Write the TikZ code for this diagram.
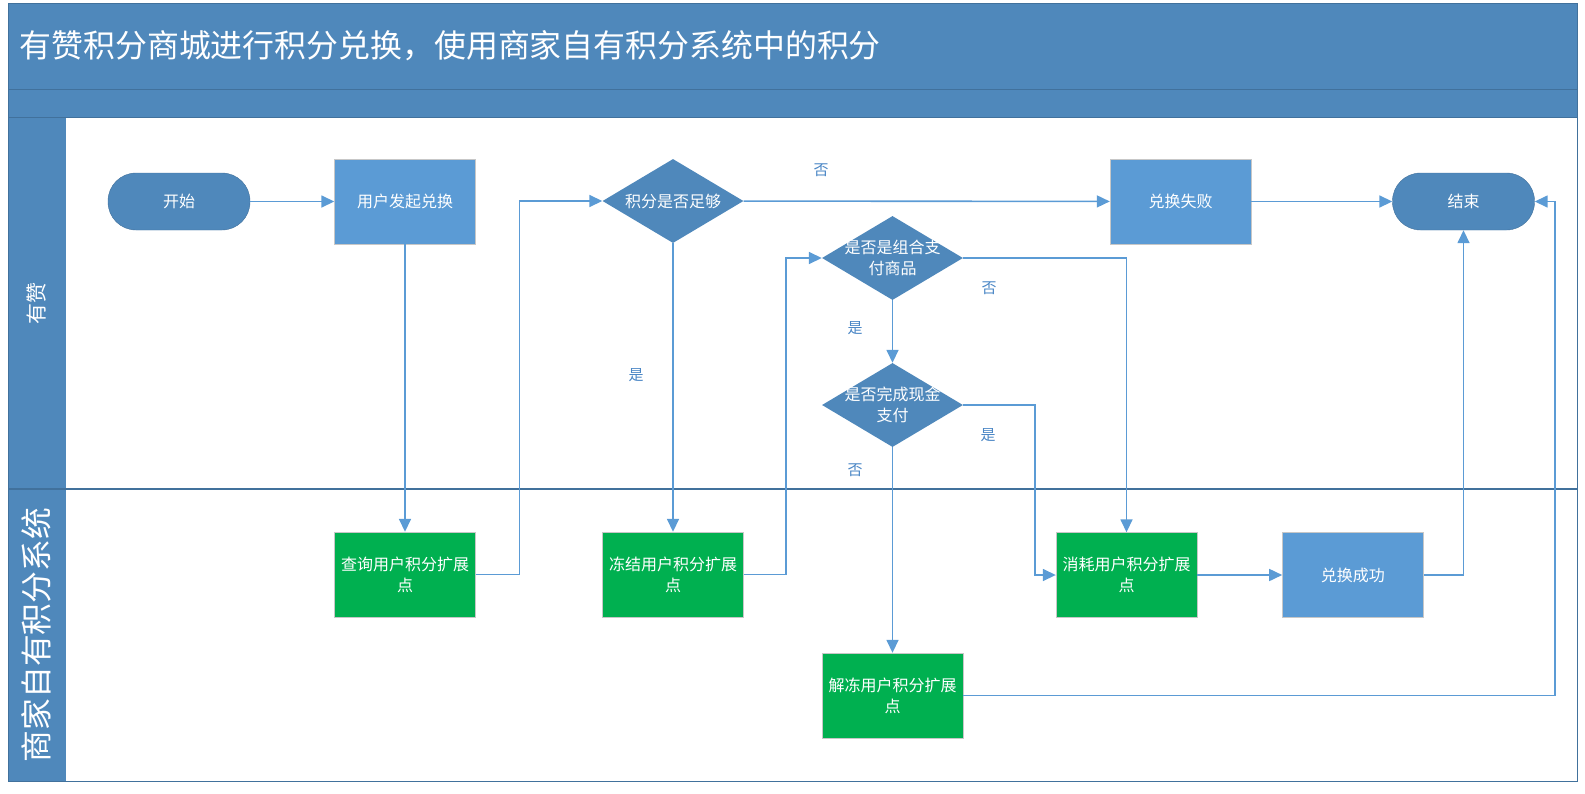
\documentclass[tikz,border=0pt]{standalone}
\usepackage{fontspec}
\setmainfont{Noto Sans CJK SC}
\usepackage{tikz}
\usetikzlibrary{shapes.geometric,arrows.meta,positioning}

\definecolor{bandblue}{HTML}{4F88BB}
\definecolor{edgeblue}{HTML}{41719C}
\definecolor{boxblue}{HTML}{5B9BD5}
\definecolor{boxgreen}{HTML}{00B050}
\definecolor{lineblue}{HTML}{5B9BD5}
\definecolor{choiceblue}{HTML}{4A86C5}

\begin{document}
\begin{tikzpicture}[
    x=1pt, y=-1pt,
    every node/.style={font=\fontsize{16}{21}\selectfont, text=white},
    block/.style={rectangle, draw=black!22, fill=boxblue, minimum width=141pt, minimum height=85pt, align=center, inner sep=0pt},
    extpoint/.style={block, fill=boxgreen},
    terminal/.style={rectangle, rounded corners=28pt, draw=edgeblue, fill=bandblue, minimum width=142pt, minimum height=57pt},
    decision/.style={diamond, fill=bandblue, minimum width=141pt, minimum height=84pt, inner sep=0pt},
    choice/.style={font=\fontsize{15}{17}\selectfont, text=choiceblue},
    line/.style={draw=lineblue, line width=1.6pt, -{Triangle[length=13pt,width=12pt]}}
]

% Swimlane frame
\useasboundingbox (0,0) rectangle (1585,793);
\fill[bandblue] (8,3) rectangle (1577,117);
\fill[bandblue] (8,117) rectangle (65.7,781.5);
\draw[edgeblue, line width=1pt] (8,89) -- (1577,89);
\draw[edgeblue, line width=1pt] (8,117) -- (1577,117);
\draw[edgeblue, line width=1.2pt] (8,489) -- (1577,489);
\draw[edgeblue, line width=1pt] (8,3) rectangle (1577,781.5);

\node[anchor=west, font=\fontsize{31.9}{36}\selectfont] (title) at (16,46) {有赞积分商城进行积分兑换，使用商家自有积分系统中的积分};
\node[rotate=90, font=\fontsize{21}{24}\selectfont] (youzan) at (36.5,303) {有赞};
\node[rotate=90, font=\fontsize{31.8}{36}\selectfont] (merchant) at (36.5,635) {商家自有积分系统};

% Youzan lane
\node[terminal] (start) at (179,201.5) {开始};
\node[block] (launch) at (405,201.5) {用户发起兑换};
\node[decision, label={[align=center]center:积分是否足够}] (enough) at (673,201) {};
\node[block] (fail) at (1180.5,201.5) {兑换失败};
\node[terminal] (stop) at (1463.5,201.5) {结束};
\node[decision, label={[align=center]center:是否是组合支\\付商品}] (combo) at (892.5,258) {};
\node[decision, label={[align=center]center:是否完成现金\\支付}] (cashpaid) at (892.5,405) {};

% Merchant lane
\node[extpoint] (query) at (405,574.5) {查询用户积分扩展\\点};
\node[extpoint] (freeze) at (673,574.5) {冻结用户积分扩展\\点};
\node[extpoint] (consume) at (1126.5,575) {消耗用户积分扩展\\点};
\node[block, right=85pt of consume] (success) {兑换成功};
\node[extpoint] (unfreeze) at (892.5,695.5) {解冻用户积分扩展\\点};

% Branch labels
\node[choice] (enoughno) at (821,170) {否};
\node[choice] (enoughyes) at (636,375) {是};
\node[choice] (comboyes) at (855,328) {是};
\node[choice] (combono) at (989,288) {否};
\node[choice] (cashyes) at (988,435) {是};
\node[choice] (cashno) at (855,470) {否};

% Connections
\path [line] (start) -- (launch);
\path [line] (launch) -- (query);
\path [line] (query.east) -- ++(43.6,0) |- (enough.west);
\path [line] (enough) -- (fail);
\path [line] (enough.south) -- (freeze.north);
\path [line] (freeze.east) -- ++(42.5,0) |- (combo.west);
\path [line] (combo) -- (cashpaid);
\path [line] (combo.east) -| (consume.north);
\path [line] (cashpaid.east) -- ++(72,0) |- (consume.west);
\path [line] (cashpaid.south) -- (unfreeze.north);
\path [line] (consume) -- (success);
\path [line] (success.east) -| (stop.south);
\path [line] (fail) -- (stop);
\path [line] (unfreeze.east) -- ++(592,0) |- (stop.east);

\end{tikzpicture}
\end{document}
